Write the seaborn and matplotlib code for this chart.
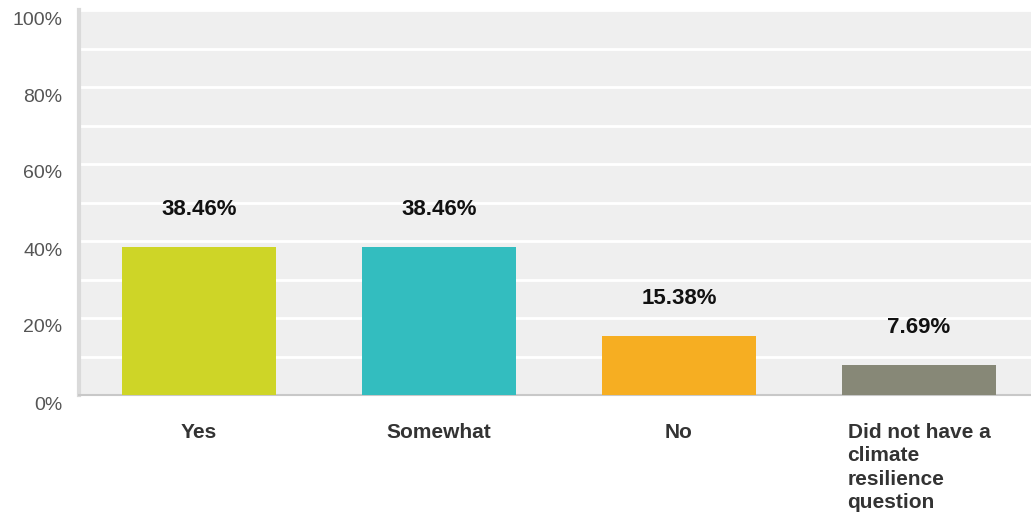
import matplotlib
matplotlib.use("Agg")
import matplotlib.pyplot as plt
from matplotlib.transforms import ScaledTranslation
from matplotlib.ticker import MultipleLocator, FuncFormatter
import seaborn as sns
import pandas as pd

categories = ["Yes", "Somewhat", "No", "Did not have a\nclimate\nresilience\nquestion"]
values = [38.46, 38.46, 15.38, 7.69]
colors = ["#CED527", "#33BDBF", "#F6AE22", "#878877"]
y_ticks = [0, 20, 40, 60, 80, 100]

sns.set_theme(style="white")
plt.rcParams['font.family'] = ['Liberation Sans', 'DejaVu Sans']

df = pd.DataFrame({"cat": categories, "val": values})

fig = plt.figure(figsize=(10.31, 5.18), dpi=100)
ax = fig.add_axes([79 / 1031, 123 / 518, 960 / 1031, 385 / 518])
ax.set_facecolor("#EFEFEF")

sns.barplot(data=df, x="cat", y="val", hue="cat", palette=colors, legend=False,
            width=0.64, saturation=1, linewidth=0, ax=ax, zorder=3)

ax.set_xlim(-0.5, 3.5)
ax.set_ylim(0, 100)
ax.set_yticks(y_ticks)
ax.yaxis.set_minor_locator(MultipleLocator(10))
ax.yaxis.set_major_formatter(FuncFormatter(lambda v, p: f"{int(v)}%"))
ax.grid(which="both", axis="y", color="white", linewidth=2, zorder=1)
ax.set_axisbelow(True)
ax.set_xlabel("")
ax.set_ylabel("")

for s in ["top", "right"]:
    ax.spines[s].set_visible(False)
ax.spines["left"].set_color("#DADADA")
ax.spines["left"].set_linewidth(3)
ax.spines["bottom"].set_color("#C8C8C8")
ax.spines["bottom"].set_linewidth(1.5)

ax.tick_params(axis="y", which="both", length=0, pad=12, labelsize=14, labelcolor="#555555")
ax.tick_params(axis="x", length=0, pad=20, labelsize=15, labelcolor="#333333")
for lab in ax.get_xticklabels():
    lab.set_fontweight("bold")
    lab.set_multialignment("left")
    lab.set_linespacing(1.3)
off = ScaledTranslation(0, -8 / 100, fig.dpi_scale_trans)
for lab in ax.get_yticklabels():
    lab.set_transform(lab.get_transform() + off)

for i, v in enumerate(values):
    ax.annotate(f"{v:.2f}%", xy=(i, v), xytext=(0, 27), textcoords="offset points",
                ha="center", va="center", fontsize=16, fontweight="bold", color="#111111")

fig.savefig("out.png", dpi=100)
